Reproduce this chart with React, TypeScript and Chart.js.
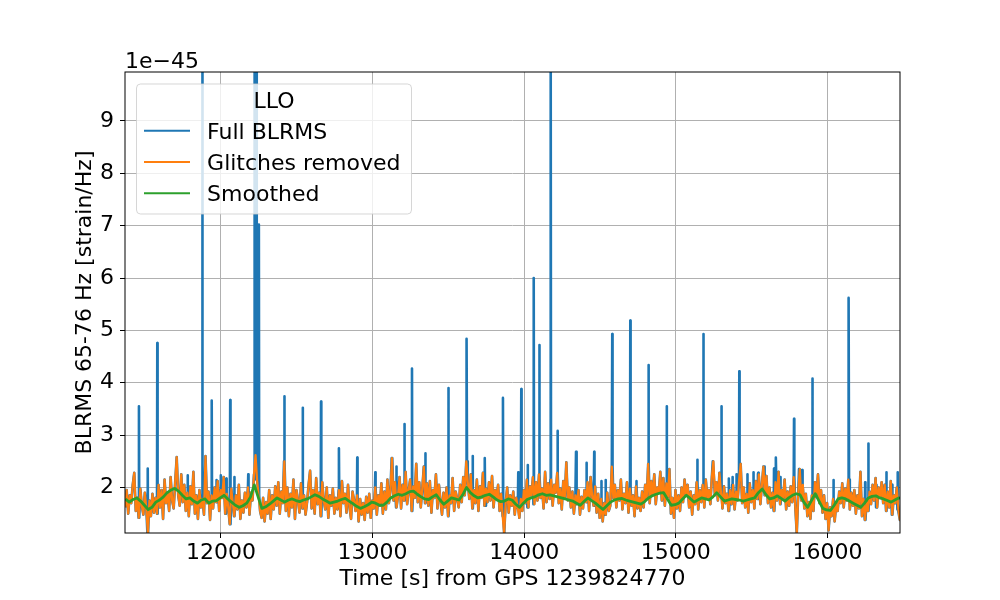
import React, { useRef, useEffect } from 'react';
import Chart from 'chart.js/auto';

const FONT = 'DejaVu Sans';

// axis limits (y in units of 1e-45)
const xMin = 11367;
const xMax = 16479;
const yMin = 1.13;
const yMax = 9.935;
const xTicks = [12000, 13000, 14000, 15000, 16000];
const yTicks = [2, 3, 4, 5, 6, 7, 8, 9];

// glitches removed, one sample every 10 s from 11368
const orangeStart = 11368;
const orangeStep = 10;
const glitchesRemoved = [
  1.62, 1.95, 1.50, 1.85, 1.70, 2.05, 2.28, 1.55, 1.80, 1.42, 1.98, 1.65, 1.48, 1.90, 1.58, 1.12, 1.75, 1.45, 1.88, 1.52,
  1.80, 1.50, 2.05, 1.62, 1.95, 1.40, 2.15, 1.70, 1.88, 1.55, 2.20, 1.75, 1.60, 2.10, 2.58, 1.85, 1.65, 2.25, 1.72, 2.05,
  1.55, 1.90, 1.45, 2.02, 1.68, 2.30, 1.50, 1.85, 1.40, 1.95, 1.62, 1.78, 1.48, 2.60, 1.70, 1.92, 1.38, 1.85, 1.60, 2.00,
  1.72, 2.12, 1.55, 1.95, 1.80, 2.20, 1.50, 1.88, 1.62, 1.30, 1.98, 1.70, 1.45, 1.85, 1.58, 2.05, 1.40, 1.75, 1.52, 1.90,
  1.62, 2.00, 1.48, 1.90, 1.75, 2.25, 2.62, 2.15, 1.85, 1.55, 1.42, 1.80, 1.35, 1.72, 1.50, 1.95, 1.40, 1.85, 1.58, 2.02,
  1.65, 2.10, 1.50, 1.92, 1.70, 2.50, 1.55, 2.00, 1.45, 1.88, 1.62, 2.15, 1.40, 1.95, 1.75, 1.52, 2.08, 1.60, 1.85, 1.48,
  1.72, 2.05, 2.32, 1.60, 1.95, 1.50, 2.18, 1.68, 1.90, 1.45, 2.10, 1.75, 1.58, 2.00, 1.42, 1.85, 1.65, 1.98, 1.50, 1.80,
  1.58, 1.95, 1.45, 2.12, 1.70, 1.88, 1.52, 2.05, 1.62, 1.40, 1.92, 1.75, 1.55, 1.85, 1.35, 1.78, 1.48, 1.70, 1.38, 1.82,
  1.52, 1.88, 1.42, 1.75, 1.60, 2.00, 1.48, 1.85, 1.65, 2.08, 1.50, 1.92, 1.58, 2.15, 1.70, 1.95, 2.56, 1.75, 2.10, 1.62,
  1.85, 2.20, 1.60, 2.05, 1.75, 2.30, 1.68, 1.95, 2.15, 1.55, 2.02, 1.80, 2.45, 1.72, 2.10, 1.62, 1.98, 2.40, 1.70, 2.08,
  1.65, 2.12, 1.52, 1.95, 1.80, 2.25, 1.60, 2.05, 1.75, 1.48, 1.90, 1.62, 2.00, 1.45, 1.85, 1.70, 2.18, 1.55, 1.92, 1.78,
  1.62, 2.05, 1.72, 2.20, 1.85, 2.50, 2.10, 1.78, 2.25, 1.60, 1.95, 1.70, 2.15, 1.55, 2.02, 1.80, 2.28, 1.65, 1.98, 1.72,
  2.10, 1.75, 2.22, 1.62, 1.95, 1.80, 2.05, 1.55, 1.88, 1.45, 1.12, 1.70, 2.00, 1.52, 1.85, 1.65, 1.92, 1.48, 1.80, 1.60,
  1.42, 1.78, 1.55, 1.95, 1.70, 2.15, 1.62, 2.02, 1.85, 2.20, 1.68, 2.10, 1.75, 2.25, 1.80, 1.98, 1.60, 2.30, 1.72, 2.08,
  1.78, 2.15, 1.65, 2.05, 1.90, 2.28, 1.70, 1.98, 1.58, 2.12, 1.82, 2.48, 1.75, 2.00, 1.62, 1.92, 1.50, 1.85, 1.68, 1.95,
  1.48, 1.82, 1.60, 1.95, 1.72, 2.10, 1.55, 2.20, 1.85, 1.65, 2.02, 1.52, 1.88, 1.42, 1.78, 1.35, 1.70, 1.48, 1.90, 1.55,
  1.65, 2.40, 1.80, 2.05, 1.62, 1.95, 1.75, 2.15, 1.58, 1.88, 1.70, 2.10, 1.52, 1.98, 1.65, 1.85, 1.45, 2.02, 1.60, 1.80,
  1.55, 1.92, 1.62, 2.05, 1.78, 2.45, 1.70, 2.12, 1.85, 2.25, 1.68, 2.00, 1.90, 2.30, 1.75, 2.18, 1.65, 2.08, 1.82, 2.35,
  1.50, 1.80, 1.42, 1.95, 1.60, 1.85, 1.55, 2.00, 1.72, 2.15, 1.85, 2.05, 1.62, 1.92, 1.48, 1.85, 1.68, 2.10, 1.58, 1.95,
  1.72, 2.05, 1.62, 2.15, 1.80, 1.95, 1.68, 2.20, 2.50, 1.85, 2.10, 1.75, 2.28, 1.90, 1.60, 2.02, 1.70, 1.88, 1.55, 1.95,
  1.68, 2.05, 1.58, 1.92, 1.75, 2.15, 2.45, 1.70, 2.00, 1.62, 1.88, 1.52, 2.08, 1.72, 1.95, 1.60, 2.12, 1.78, 2.25, 1.68,
  2.05, 2.40, 1.85, 2.22, 1.70, 2.00, 1.62, 1.90, 1.55, 2.10, 1.75, 2.30, 1.68, 1.95, 1.80, 2.15, 1.58, 1.92, 1.65, 2.02,
  1.72, 2.20, 1.65, 1.12, 1.90, 2.35, 1.75, 2.05, 1.60, 1.88, 1.45, 1.72, 1.40, 1.85, 1.55, 2.10, 1.82, 2.25, 1.70, 1.95,
  1.52, 1.85, 1.40, 1.70, 1.18, 1.62, 1.45, 1.78, 1.35, 1.68, 1.55, 1.92, 1.70, 2.08, 1.62, 1.98, 1.75, 2.15, 1.58, 1.90,
  1.65, 1.95, 1.50, 1.85, 1.60, 2.30, 1.45, 1.78, 1.38, 1.72, 1.55, 1.92, 1.68, 2.05, 1.75, 2.18, 1.62, 2.00, 1.80, 2.10,
  1.70, 2.05, 1.55, 1.92, 1.62, 2.12, 1.48, 1.85, 1.70, 2.00, 1.58, 1.38, 1.70,
];

// smoothed curve, one sample every 25 s from 11370
const smoothStart = 11370;
const smoothStep = 25;
const smoothed = [
  1.78, 1.72, 1.77, 1.80, 1.74, 1.66, 1.58, 1.62, 1.72, 1.76,
  1.82, 1.90, 1.95, 1.98, 1.93, 1.85, 1.78, 1.80, 1.74, 1.70,
  1.76, 1.78, 1.70, 1.74, 1.75, 1.80, 1.85, 1.78, 1.72, 1.66,
  1.62, 1.65, 1.70, 1.82, 2.05, 1.82, 1.60, 1.63, 1.68, 1.74,
  1.80, 1.76, 1.72, 1.76, 1.78, 1.75, 1.73, 1.76, 1.78, 1.82,
  1.86, 1.83, 1.78, 1.74, 1.70, 1.72, 1.74, 1.77, 1.79, 1.74,
  1.69, 1.64, 1.60, 1.63, 1.67, 1.72, 1.70, 1.66, 1.66, 1.72,
  1.80, 1.84, 1.87, 1.85, 1.88, 1.92, 1.93, 1.87, 1.82, 1.78,
  1.77, 1.82, 1.86, 1.76, 1.68, 1.74, 1.80, 1.78, 1.76, 1.86,
  2.00, 1.90, 1.84, 1.80, 1.82, 1.85, 1.87, 1.82, 1.76, 1.73,
  1.74, 1.78, 1.76, 1.68, 1.62, 1.70, 1.77, 1.80, 1.82, 1.86,
  1.88, 1.85, 1.86, 1.84, 1.82, 1.80, 1.78, 1.76, 1.74, 1.70,
  1.66, 1.73, 1.80, 1.75, 1.70, 1.64, 1.58, 1.65, 1.72, 1.76,
  1.78, 1.79, 1.76, 1.74, 1.72, 1.70, 1.68, 1.73, 1.80, 1.84,
  1.87, 1.89, 1.90, 1.78, 1.66, 1.67, 1.70, 1.78, 1.85, 1.79,
  1.72, 1.76, 1.80, 1.78, 1.76, 1.82, 1.90, 1.82, 1.74, 1.76,
  1.78, 1.77, 1.76, 1.74, 1.76, 1.78, 1.80, 1.90, 1.97, 1.86,
  1.78, 1.80, 1.84, 1.79, 1.74, 1.80, 1.85, 1.88, 1.86, 1.72,
  1.62, 1.75, 1.88, 1.74, 1.60, 1.57, 1.56, 1.66, 1.78, 1.80,
  1.78, 1.74, 1.70, 1.66, 1.62, 1.70, 1.80, 1.83, 1.84, 1.80,
  1.78, 1.75, 1.72, 1.76, 1.80, 1.79, 1.78,
];

// glitches present only in the full BLRMS
const glitchTimes = [
  11459, 11517, 11580, 11780, 11877, 11939, 11972, 11998, 12035, 12061,
  12088, 12180, 12222, 12235, 12250, 12418, 12539, 12660, 12778, 12899,
  13018, 13128, 13157, 13211, 13260, 13348, 13500, 13621, 13660, 13741,
  13860, 13961, 13981, 14023, 14063, 14100, 14175, 14221, 14342, 14412,
  14462, 14509, 14537, 14581, 14700, 14740, 14821, 14940, 15142, 15182,
  15246, 15301, 15350, 15374, 15400, 15419, 15472, 15512, 15544, 15582,
  15648, 15661, 15690, 15780, 15815, 15833, 15901, 16040, 16141, 16249,
  16270, 16323, 16389, 16427, 16464,
];
const glitchPeaks = [
  3.55, 2.36, 4.76, 2.23, 10.5, 3.66, 2.14, 2.23, 2.17, 3.67,
  2.20, 2.25, 10.5, 10.5, 7.02, 3.74, 3.52, 3.64, 2.75, 2.57,
  2.29, 2.56, 2.40, 3.21, 4.27, 2.65, 3.90, 4.84, 2.60, 2.56,
  3.71, 2.29, 3.88, 2.43, 6.00, 4.72, 10.5, 3.08, 2.68, 2.47,
  2.68, 2.12, 2.14, 4.93, 5.19, 2.12, 4.34, 3.55, 2.53, 4.93,
  2.50, 3.55, 2.17, 2.20, 2.25, 4.22, 2.25, 2.29, 2.28, 2.32,
  2.36, 2.57, 2.20, 3.31, 2.10, 2.33, 4.08, 2.14, 5.62, 2.10,
  2.84, 2.05, 2.29, 2.05, 2.29,
];

const orangePoints = glitchesRemoved.map((y, i) => ({ x: orangeStart + i * orangeStep, y }));
const greenPoints = smoothed.map((y, i) => ({ x: smoothStart + i * smoothStep, y }));

// full series = cleaned series with the glitches put back as narrow spikes
const sampleAt = (t: number) => {
  const i = Math.min(glitchesRemoved.length - 1, Math.max(0, Math.round((t - orangeStart) / orangeStep)));
  return glitchesRemoved[i];
};
const bluePoints = [
  ...orangePoints.filter((p) => !glitchTimes.some((t) => Math.abs(t - p.x) < 3)),
  ...glitchTimes.flatMap((t, i) => [
    { x: t - 2, y: sampleAt(t) },
    { x: t, y: glitchPeaks[i] },
    { x: t + 2, y: sampleAt(t) },
  ]),
].sort((a, b) => a.x - b.x);

const framePlugin = {
  id: 'frame',
  afterDraw(chart: any) {
    const { ctx, chartArea: a } = chart;
    ctx.save();
    ctx.strokeStyle = '#000';
    ctx.lineWidth = 1;
    ctx.strokeRect(a.left, a.top, a.right - a.left, a.bottom - a.top);

    ctx.font = `22px "${FONT}"`;
    ctx.fillStyle = '#000';
    ctx.textAlign = 'left';
    ctx.textBaseline = 'alphabetic';
    ctx.fillText('1e\u221245', a.left, a.top - 4);

    // legend box, matplotlib style
    const bx = a.left + 11.5;
    const by = a.top + 12;
    const bw = 275;
    const bh = 130;
    ctx.beginPath();
    ctx.roundRect(bx, by, bw, bh, 4);
    ctx.fillStyle = 'rgba(255,255,255,0.8)';
    ctx.fill();
    ctx.strokeStyle = 'rgba(204,204,204,0.8)';
    ctx.stroke();

    ctx.fillStyle = '#000';
    ctx.textAlign = 'center';
    ctx.fillText('LLO', bx + bw / 2, by + 23.7);
    ctx.textAlign = 'left';
    chart.data.datasets.forEach((ds: any, i: number) => {
      const ly = by + 46.7 + i * 31.3;
      ctx.beginPath();
      ctx.moveTo(bx + 7.5, ly);
      ctx.lineTo(bx + 53.5, ly);
      ctx.strokeStyle = ds.borderColor;
      ctx.lineWidth = 2;
      ctx.stroke();
      ctx.fillStyle = '#000';
      ctx.fillText(ds.label, bx + 70.6, by + 54.7 + i * 31.3);
    });
    ctx.restore();
  },
};

const BlrmsChart: React.FC = () => {
  const canvasRef = useRef<HTMLCanvasElement | null>(null);

  useEffect(() => {
    if (!canvasRef.current) return;
    const font = { family: FONT, size: 22 };
    const chart = new Chart(canvasRef.current, {
      type: 'line',
      data: {
        datasets: [
          {
            label: 'Full BLRMS',
            data: bluePoints,
            borderColor: '#1f77b4',
            borderWidth: 2.6,
            borderJoinStyle: 'round',
            pointRadius: 0,
            order: 3,
            clip: 0,
          },
          {
            label: 'Glitches removed',
            data: orangePoints,
            borderColor: '#ff7f0e',
            borderWidth: 2.2,
            borderJoinStyle: 'round',
            pointRadius: 0,
            order: 2,
            clip: 0,
          },
          {
            label: 'Smoothed',
            data: greenPoints,
            borderColor: '#2ca02c',
            borderWidth: 2.8,
            borderJoinStyle: 'round',
            pointRadius: 0,
            order: 1,
            clip: 0,
          },
        ],
      },
      options: {
        responsive: false,
        animation: false,
        events: [],
        parsing: false,
        layout: { padding: { top: 72, right: 100, bottom: 0, left: 0 } },
        plugins: {
          legend: { display: false },
          tooltip: { enabled: false },
        },
        scales: {
          x: {
            type: 'linear',
            min: xMin,
            max: xMax,
            afterBuildTicks: (s: any) => {
              s.ticks = xTicks.map((value) => ({ value }));
            },
            afterFit: (s: any) => {
              s.height = 67;
            },
            ticks: {
              callback: (v: any) => String(v),
              color: '#000',
              font,
              padding: 2,
              maxRotation: 0,
              autoSkip: false,
            },
            grid: { color: '#b0b0b0', lineWidth: 1, tickColor: '#000', tickLength: 5, tickWidth: 1 },
            border: { display: false },
            title: {
              display: true,
              text: 'Time [s] from GPS 1239824770',
              color: '#000',
              font,
              padding: { top: 0, bottom: 8 },
            },
          },
          y: {
            type: 'linear',
            min: yMin,
            max: yMax,
            afterBuildTicks: (s: any) => {
              s.ticks = yTicks.map((value) => ({ value }));
            },
            afterFit: (s: any) => {
              s.width = 125;
            },
            ticks: {
              callback: (v: any) => String(v),
              color: '#000',
              font,
              padding: 6,
              autoSkip: false,
            },
            grid: { color: '#b0b0b0', lineWidth: 1, tickColor: '#000', tickLength: 5, tickWidth: 1 },
            border: { display: false },
            title: {
              display: true,
              text: 'BLRMS 65-76 Hz [strain/Hz]',
              color: '#000',
              font,
              padding: { top: 72, bottom: 0 },
            },
          },
        },
      },
      plugins: [framePlugin],
    });
    return () => {
      chart.destroy();
    };
  }, []);

  return <canvas ref={canvasRef} width={1000} height={600} style={{ display: 'block' }} />;
};

export default function App() {
  return (
    <div style={{ position: 'fixed', left: 0, top: 0, width: 1000, height: 600, background: '#fff' }}>
      <BlrmsChart />
    </div>
  );
}
